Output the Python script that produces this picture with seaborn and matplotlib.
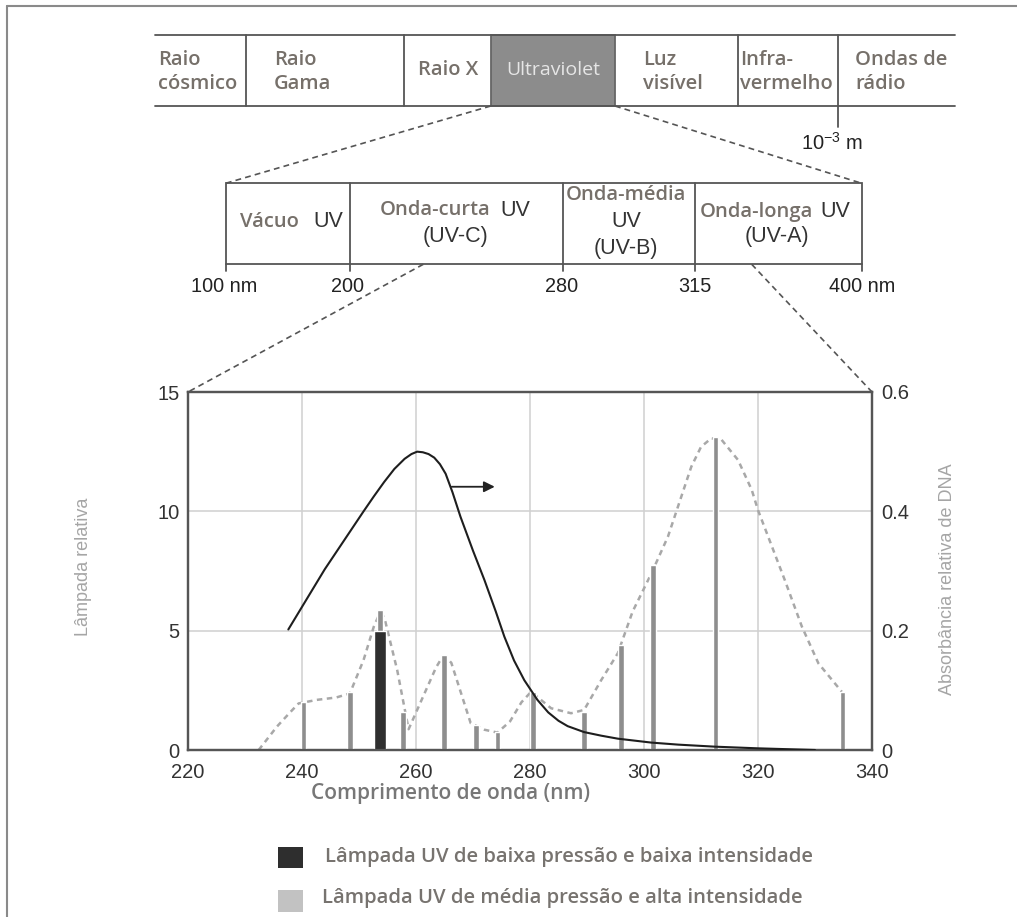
import matplotlib
matplotlib.use("Agg")
import matplotlib.pyplot as plt
import seaborn as sns
from matplotlib.patches import Rectangle

# ---------------- data ----------------
x_ticks = [220, 240, 260, 280, 300, 320, 340]
y_left_ticks = [0, 5, 10, 15]
y_right_ticks = [0, 0.2, 0.4, 0.6]
y_right_labels = ["0", "0.2", "0.4", "0.6"]

# medium-pressure lamp emission lines (relative lamp output)
mp_wavelength = [240.3, 248.4, 253.7, 257.7, 264.9, 270.5, 274.3, 280.5, 289.5, 296.0, 301.6, 312.5, 334.8]
mp_intensity = [2.0, 2.45, 5.85, 1.6, 4.0, 1.05, 0.77, 2.45, 1.6, 4.4, 7.75, 13.1, 2.45]

# low-pressure lamp line
lp_wavelength = [253.7]
lp_intensity = [5.0]

# dotted envelope of the medium-pressure lamp
envelope_wl = [232.4, 235.6, 238.0, 239.4, 242.6, 246.0, 248.4, 250.8, 252.6, 253.4, 253.9, 254.5,
               256.7, 258.7, 263.5, 264.5, 265.2, 266.2, 269.6, 272.0, 274.3, 276.5, 278.5, 280.2,
               283.7, 287.2, 289.5, 292.5, 295.4, 298.0, 301.3, 304.2, 308.3, 310.0, 311.8, 313.6,
               316.5, 318.9, 320.0, 324.7, 327.7, 330.6, 334.7]
envelope_val = [0.0, 0.98, 1.6, 1.95, 2.1, 2.2, 2.37, 3.77, 5.17, 5.6, 5.75, 5.5,
                3.35, 0.87, 3.45, 3.85, 3.92, 3.65, 1.12, 0.85, 0.73, 1.2, 2.0, 2.44,
                1.75, 1.54, 1.68, 2.93, 4.05, 5.8, 7.4, 8.94, 11.87, 12.7, 13.06, 13.0,
                12.15, 10.9, 10.05, 7.12, 5.17, 3.63, 2.44]

# DNA relative absorbance (right axis)
dna_wl = [237.6, 244.0, 250.8, 252.6, 254.4, 256.2, 258.0, 259.2, 260.2, 261.2, 262.2, 263.2,
          264.2, 265.2, 266.4, 267.8, 270.0, 272.0, 274.0, 275.5, 277.2, 279.0, 281.3, 283.2,
          285.0, 286.6, 289.5, 292.5, 295.4, 301.3, 306.0, 312.4, 320.0, 330.0]
dna_abs = [0.202, 0.303, 0.400, 0.425, 0.449, 0.471, 0.488, 0.496, 0.500, 0.499, 0.496, 0.490,
           0.479, 0.463, 0.432, 0.391, 0.334, 0.285, 0.232, 0.19, 0.150, 0.117, 0.084, 0.063,
           0.049, 0.040, 0.030, 0.024, 0.019, 0.0124, 0.009, 0.0056, 0.0028, 0.0]

spectrum_labels = [("Raio", "cósmico"), ("Raio", "Gama"), ("Raio X",), ("Ultraviolet",),
                   ("Luz", "visível"), ("Infra-", "vermelho"), ("Ondas de", "rádio")]
uv_tick_labels = ["100 nm", "200", "280", "315", "400 nm"]
legend_labels = ["Lâmpada UV de baixa pressão e baixa intensidade",
                 "Lâmpada UV de média pressão e alta intensidade"]

# ---------------- style ----------------
sns.set_style("white")
plt.rcParams["font.family"] = ["Liberation Sans", "DejaVu Sans"]
plt.rcParams["mathtext.fontset"] = "custom"
plt.rcParams["mathtext.rm"] = "Liberation Sans"

W, H = 1017, 917
fig = plt.figure(figsize=(W / 100, H / 100), dpi=100)

HUM = dict(family=["Open Sans", "DejaVu Sans"], fontsize=14.5, color="#76706a", fontweight="semibold")
ARI = dict(family=["Liberation Sans", "DejaVu Sans"], fontsize=15.5, color="#333333")
LINE = "#555555"

# overlay axes in pixel coordinates for the diagram parts
ov = fig.add_axes([0, 0, 1, 1], zorder=0)
ov.set_xlim(0, W)
ov.set_ylim(H, 0)
ov.axis("off")

# outer frame (left & top)
ov.plot([7, 7], [6, H], color="#8a8a8a", lw=1.5)
ov.plot([7, W], [6, 6], color="#8a8a8a", lw=1.5)

# --- electromagnetic spectrum band ---
ov.add_patch(Rectangle((490.7, 35), 615 - 490.7, 71, fc="#8c8c8c", ec="#666666", lw=1.3, zorder=1))
ov.plot([155, 955], [35, 35], color=LINE, lw=1.3)
ov.plot([155, 955], [106, 106], color=LINE, lw=1.3)
for xd in [246, 404.3, 737.7]:
    ov.plot([xd, xd], [35, 106], color=LINE, lw=1.3)
ov.plot([838.3, 838.3], [35, 126.7], color=LINE, lw=1.3)

two_line_x = {0: 158, 1: 274, 4: 643, 5: 740, 6: 855}
for i, x in two_line_x.items():
    ov.text(x, 60, spectrum_labels[i][0], ha="left", va="center", **HUM)
    ov.text(x, 84, spectrum_labels[i][1], ha="left", va="center", **HUM)
ov.text(448, 70, spectrum_labels[2][0], ha="center", va="center", **HUM)
ov.text(553, 70, spectrum_labels[3][0], ha="center", va="center",
        family=["Open Sans", "DejaVu Sans"], fontsize=14, color="#e6e6e6")
ov.text(832, 143, r"$\mathregular{10^{-3}}$ m", ha="center", va="center",
        family=["Liberation Sans"], fontsize=14.5, color="#222222")

# --- UV sub-band ---
ov.add_patch(Rectangle((225.7, 183.3), 861.7 - 225.7, 81, fill=False, ec=LINE, lw=1.3))
uv_x = [225.7, 350, 562.7, 695, 861.7]
for xd in uv_x[1:-1]:
    ov.plot([xd, xd], [183.3, 264.3], color=LINE, lw=1.3)
for xd in uv_x:
    ov.plot([xd, xd], [264.3, 271], color=LINE, lw=1.3)
lab_x = [224, 348, 562, 695, 861.7]
for xl, lab in zip(lab_x, uv_tick_labels):
    ov.text(xl, 287, lab, ha="center", va="center", family=["Liberation Sans"], fontsize=14.3, color="#222222")

ov.text(240, 221.7, "Vácuo", ha="left", va="center", **HUM)
ov.text(313, 221.7, "UV", ha="left", va="center", **ARI)
ov.text(380, 210, "Onda-curta", ha="left", va="center", **HUM)
ov.text(500, 210, "UV", ha="left", va="center", **ARI)
ov.text(456, 236.7, "(UV-C)", ha="center", va="center", **ARI)
ov.text(626, 195, "Onda-média", ha="center", va="center", **HUM)
ov.text(626, 221.7, "UV", ha="center", va="center", **ARI)
ov.text(626, 248.3, "(UV-B)", ha="center", va="center", **ARI)
ov.text(700, 211.7, "Onda-longa", ha="left", va="center", **HUM)
ov.text(820, 211.7, "UV", ha="left", va="center", **ARI)
ov.text(776.7, 236.7, "(UV-A)", ha="center", va="center", **ARI)

# dashed connectors
DASH = dict(color="#555555", lw=1.2, linestyle=(0, (3.5, 2.5)))
ov.plot([490.7, 225.7], [106, 183.3], **DASH)
ov.plot([615, 861.7], [106, 183.3], **DASH)
ov.plot([423.3, 188], [264.3, 392], **DASH)
ov.plot([751.7, 872], [264.3, 392], **DASH)

# axis titles & legend
ov.text(451, 794, "Comprimento de onda (nm)", ha="center", va="center",
        family=["Open Sans", "DejaVu Sans"], fontsize=15, color="#777777", fontweight="semibold")
ov.text(83, 567, "Lâmpada relativa", rotation=90, ha="center", va="center",
        family=["Liberation Sans"], fontsize=13, color="#a5a5a5")
ov.text(947, 579, "Absorbância relativa de DNA", rotation=90, ha="center", va="center",
        family=["Liberation Sans"], fontsize=13, color="#a5a5a5")

ov.add_patch(Rectangle((278, 847), 24.7, 21, fc="#2e2e2e", ec="none"))
ov.add_patch(Rectangle((278, 890), 24.7, 22, fc="#c2c2c2", ec="none"))
ov.text(325, 857, legend_labels[0], ha="left", va="center",
        family=["Open Sans", "DejaVu Sans"], fontsize=14.6, color="#77736f", fontweight="semibold")
ov.text(321.7, 898, legend_labels[1], ha="left", va="center",
        family=["Open Sans", "DejaVu Sans"], fontsize=14.6, color="#77736f", fontweight="semibold")

# ---------------- main chart ----------------
ax = fig.add_axes([188 / W, 1 - 750 / H, (872 - 188) / W, (750 - 392) / H], zorder=2)
ax.set_facecolor("white")
ax.set_xlim(220, 340)
ax.set_ylim(0, 15)
ax.set_xticks(x_ticks)
ax.set_yticks(y_left_ticks)
ax.grid(True, color="#d0d0d0", lw=1.1, zorder=0)
ax.set_axisbelow(True)

sns.lineplot(x=envelope_wl, y=envelope_val, ax=ax, color="#a8a8a8", lw=1.8,
             linestyle=(0, (2.2, 1.8)), zorder=2)
ax.bar(mp_wavelength, mp_intensity, width=0.95, color="#8e8e8e", zorder=3)
ax.bar(lp_wavelength, lp_intensity, width=2.2, color="#2f2f2f", zorder=4)
ax.annotate("", xy=(274.3, 11.03), xytext=(265.8, 11.03),
            arrowprops=dict(arrowstyle="-|>", color="#222222", lw=1.3, mutation_scale=16), zorder=6)

ax2 = ax.twinx()
ax2.set_ylim(0, 0.6)
ax2.set_yticks(y_right_ticks)
ax2.set_yticklabels(y_right_labels)
sns.lineplot(x=dna_wl, y=dna_abs, ax=ax2, color="#1e1e1e", lw=1.5, zorder=5)

for a in (ax, ax2):
    a.set_xlabel("")
    a.set_ylabel("")
    for s in a.spines.values():
        s.set_color("#555555")
        s.set_linewidth(1.6)
ax.tick_params(axis="both", length=0, labelsize=14.5, colors="#333333")
ax.tick_params(axis="x", pad=9)
ax.tick_params(axis="y", pad=6)
ax2.tick_params(axis="y", length=0, labelsize=14.5, colors="#333333", pad=7)

fig.savefig("out.png", dpi=100, facecolor="white")
